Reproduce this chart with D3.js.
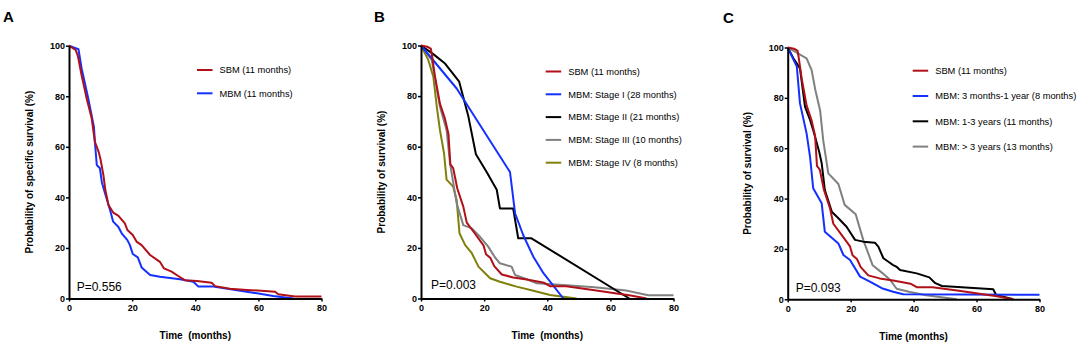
<!DOCTYPE html>
<html>
<head>
<meta charset="utf-8">
<script src="https://cdn.jsdelivr.net/npm/d3@7"></script>
<style>
  body { margin: 0; background: #fff; }
  svg { display: block; font-family: "Liberation Sans", Arial, sans-serif; }
</style>
</head>
<body>
<div id="chart"></div>
<script>
// time ticks (months) and survival ticks (%)
const timeTicks = [0, 20, 40, 60, 80];
const survTicks = [0, 20, 40, 60, 80, 100];

// panel A: specific survival, [months, %]
const sbmSpecific = [[0,100],[2.1,98.3],[2.8,96],[4,88.3],[5.6,79.1],[7.2,71.2],[8.2,62],[9.4,58],[10,55],[10.9,48.8],[11.5,43],[12.5,37],[14,34],[15.6,32.8],[17.7,29.7],[18.5,27.1],[20.2,25.1],[21.4,22.5],[23,21.1],[25.7,17.2],[28.8,14.5],[30.1,11.9],[32.5,10.6],[34.6,8.9],[36.8,7.2],[40.5,6.9],[45.2,6.2],[46.3,4.9],[51,3.9],[56.3,3.4],[65.3,2.7],[66.3,1.7],[71.6,0.8],[80,0.8]];
const mbmSpecific = [[0,100],[3,98.6],[4,91],[6.1,79.1],[7.9,67.9],[8.2,62],[8.8,52.8],[9.8,51.5],[10.4,46],[11.2,42.5],[13,35],[14,30.4],[15.6,28.4],[16.7,25.8],[18.5,23.1],[19.3,21.1],[20.2,17.6],[21.8,16.3],[23,12.3],[25.7,9.3],[28.8,8.6],[35.2,7.6],[39.4,6.6],[41,4.7],[45.7,4.7],[56.3,2.7],[64.7,1],[71.1,0]];

// panels B and C: overall survival
const sbmOverall = [[0,100],[2,99.5],[3.1,98.8],[3.5,96],[4.4,88],[6,77],[7.6,71],[8.7,65],[9.3,53],[10.2,51.5],[11.5,43.5],[13.4,36.3],[14.5,30],[17,25.8],[19.8,21],[20.6,17.5],[22,16],[23.2,12.8],[25.6,9.5],[29.2,8.3],[33.5,7.5],[36.5,6.8],[39,6.2],[41,4.8],[46,4.8],[55,3.3],[62,2],[66,1.3],[71.5,0]];
const stage1 = [[0,100],[11.3,83],[28.2,50],[29.8,33.7],[32.4,25],[35.6,16.5],[38.8,10],[45.1,0]];
const stage2 = [[0,100],[4,96.5],[7.5,93],[12.1,85.7],[15,72],[17.4,57],[20.8,50],[24,43],[25,35.6],[29.2,35.6],[30.8,23.8],[35,23.8],[66,0]];
const stage3 = [[0,100],[3.4,94.3],[6,75.8],[8.1,66.6],[9.2,53.4],[11.3,37.6],[13.4,29],[16.1,27.7],[18.7,24.4],[21.3,20.5],[23.4,16.3],[25,13.9],[28.7,12.6],[29.8,9.3],[33.5,7.6],[36.7,6],[45,5.3],[55,4.4],[65,3.2],[72,1.3],[80,1.3]];
const stage4 = [[0,100],[2.3,94.3],[3.9,87.7],[5,75.8],[6,66.6],[7.3,57.4],[8.1,47],[10.2,44.2],[11.3,38.9],[12.2,25.8],[14,21.1],[16.1,17.9],[18.2,12.6],[20.3,10],[21.9,8],[25,6.6],[30.3,4.7],[35.6,3.1],[40.9,1.4],[49.3,0]];
const mbm3mTo1y = [[0,100],[2.9,92.4],[3.9,77.8],[6,65.9],[7.1,56.6],[8.1,44.1],[10.8,38.1],[11.8,26.8],[16.1,22.2],[17.7,17.6],[19.8,15.6],[23,9],[26.1,7],[29.9,4.4],[33.5,3],[36.7,2],[80,1.8]];
const mbm1To3y = [[0,100],[1.8,95.7],[3.9,91.7],[5.5,76.5],[7.1,71.2],[8.1,67.2],[10,58.6],[10.8,54],[11.3,48.7],[11.8,43.4],[14,34.8],[16.1,32.2],[18.7,28.8],[21.4,23.6],[24,22.9],[27.7,22.5],[28.8,20.9],[30.4,16.3],[32,14.9],[33.5,13.6],[34.5,13],[35.7,11.6],[41,10.3],[45,8.7],[46.9,6.4],[49,5.3],[65.3,4],[66.2,1.7],[71.7,0]];
const mbmOver3y = [[0,100],[6,95.7],[7.6,91],[8.8,83],[10.3,75],[11.3,63],[12.9,50],[16.1,45.8],[18.1,37.5],[21.6,33.8],[24,23.6],[27,13.5],[30,10.5],[32.5,7.8],[34.6,4.2],[38.5,3],[44,1.6],[53.7,0]];

const labelsA = ["SBM (11 months)", "MBM (11 months)"];
const labelsB = ["SBM (11 months)", "MBM: Stage I (28 months)", "MBM: Stage II (21 months)", "MBM: Stage III (10 months)", "MBM: Stage IV (8 months)"];
const labelsC = ["SBM (11 months)", "MBM: 3 months-1 year (8 months)", "MBM: 1-3 years (11 months)", "MBM: > 3 years (13 months)"];
const pValues = ["P=0.556", "P=0.003", "P=0.093"];

const red = "#b01018", blue = "#1430ff", black = "#000000", grey = "#808080", olive = "#80800a";

const panels = [
  { letter: "A", lx: 3, ly: 22, left: 69, right: 321.5, top: 45.7, bottom: 298.5,
    ytitle: "Probability of specific survival (%)", xtitle: "Time  (months)",
    p: pValues[0], px: 7.7, py: -7.5,
    series: [sbmSpecific, mbmSpecific], labels: labelsA, colors: [red, blue],
    legX: 197, legY: 70, legStep: 23.3 },
  { letter: "B", lx: 374, ly: 22, left: 421, right: 673.5, top: 45.5, bottom: 298.5,
    ytitle: "Probability of survival (%)", xtitle: "Time  (months)",
    p: pValues[1], px: 10, py: -10,
    series: [sbmOverall, stage1, stage2, stage3, stage4], labels: labelsB, colors: [red, blue, black, grey, olive],
    legX: 545.7, legY: 71.5, legStep: 22.8 },
  { letter: "C", lx: 723, ly: 22.7, left: 787.7, right: 1039.5, top: 47.5, bottom: 299.3,
    ytitle: "Probability of survival (%)", xtitle: "Time (months)",
    p: pValues[2], px: 8, py: -7.3,
    series: [sbmOverall, mbm3mTo1y, mbm1To3y, mbmOver3y], labels: labelsC, colors: [red, blue, black, grey],
    legX: 912.7, legY: 70.7, legStep: 25.3 }
];

const svg = d3.select("#chart").append("svg")
  .attr("width", 1084)
  .attr("height", 348);

panels.forEach(function (pn) {
  const x = d3.scaleLinear().domain([0, 80]).range([pn.left, pn.right]);
  const y = d3.scaleLinear().domain([0, 100]).range([pn.bottom, pn.top]);
  const g = svg.append("g");

  g.append("text")
    .attr("x", pn.lx).attr("y", pn.ly)
    .attr("font-size", 15).attr("font-weight", "bold")
    .text(pn.letter);

  // curves, drawn so that SBM ends on top
  const line = d3.line().x(d => x(d[0])).y(d => y(d[1]));
  pn.series.slice().reverse().forEach(function (s, i) {
    const k = pn.series.length - 1 - i;
    g.append("path")
      .datum(s)
      .attr("d", line)
      .attr("fill", "none")
      .attr("stroke", pn.colors[k])
      .attr("stroke-width", 2)
      .attr("stroke-linejoin", "round");
  });

  const xAxis = g.append("g")
    .attr("transform", "translate(0," + pn.bottom + ")")
    .call(d3.axisBottom(x).tickValues(timeTicks).tickSize(3).tickPadding(3.5).tickSizeOuter(0));
  const yAxis = g.append("g")
    .attr("transform", "translate(" + pn.left + ",0)")
    .call(d3.axisLeft(y).tickValues(survTicks).tickSize(3).tickPadding(1).tickSizeOuter(0));
  [xAxis, yAxis].forEach(function (a) {
    a.select(".domain").attr("stroke-width", 2);
    a.selectAll(".tick line").attr("stroke-width", 1.5);
    a.selectAll(".tick text")
      .attr("font-size", 9).attr("font-weight", "bold")
      .attr("font-family", "'Liberation Sans', Arial, sans-serif")
      .attr("fill", "#000");
  });

  g.append("text")
    .attr("transform", "rotate(-90)")
    .attr("x", -(pn.top + pn.bottom) / 2)
    .attr("y", pn.left - 36.5)
    .attr("text-anchor", "middle")
    .attr("font-size", 10).attr("font-weight", "bold")
    .text(pn.ytitle);

  g.append("text")
    .attr("x", (pn.left + pn.right) / 2)
    .attr("y", pn.bottom + 40.5)
    .attr("text-anchor", "middle")
    .attr("font-size", 10).attr("font-weight", "bold")
    .style("white-space", "pre")
    .text(pn.xtitle);

  g.append("text")
    .attr("x", pn.left + pn.px)
    .attr("y", pn.bottom + pn.py)
    .attr("font-size", 12)
    .text(pn.p);

  const leg = g.append("g");
  pn.labels.forEach(function (lab, i) {
    const ly = pn.legY + i * pn.legStep;
    leg.append("line")
      .attr("x1", pn.legX).attr("x2", pn.legX + 15.5)
      .attr("y1", ly).attr("y2", ly)
      .attr("stroke", pn.colors[i]).attr("stroke-width", 2);
    leg.append("text")
      .attr("x", pn.legX + 22.5)
      .attr("y", ly)
      .attr("dy", "0.35em")
      .attr("font-size", 9.3)
      .text(lab);
  });
});
</script>
</body>
</html>
